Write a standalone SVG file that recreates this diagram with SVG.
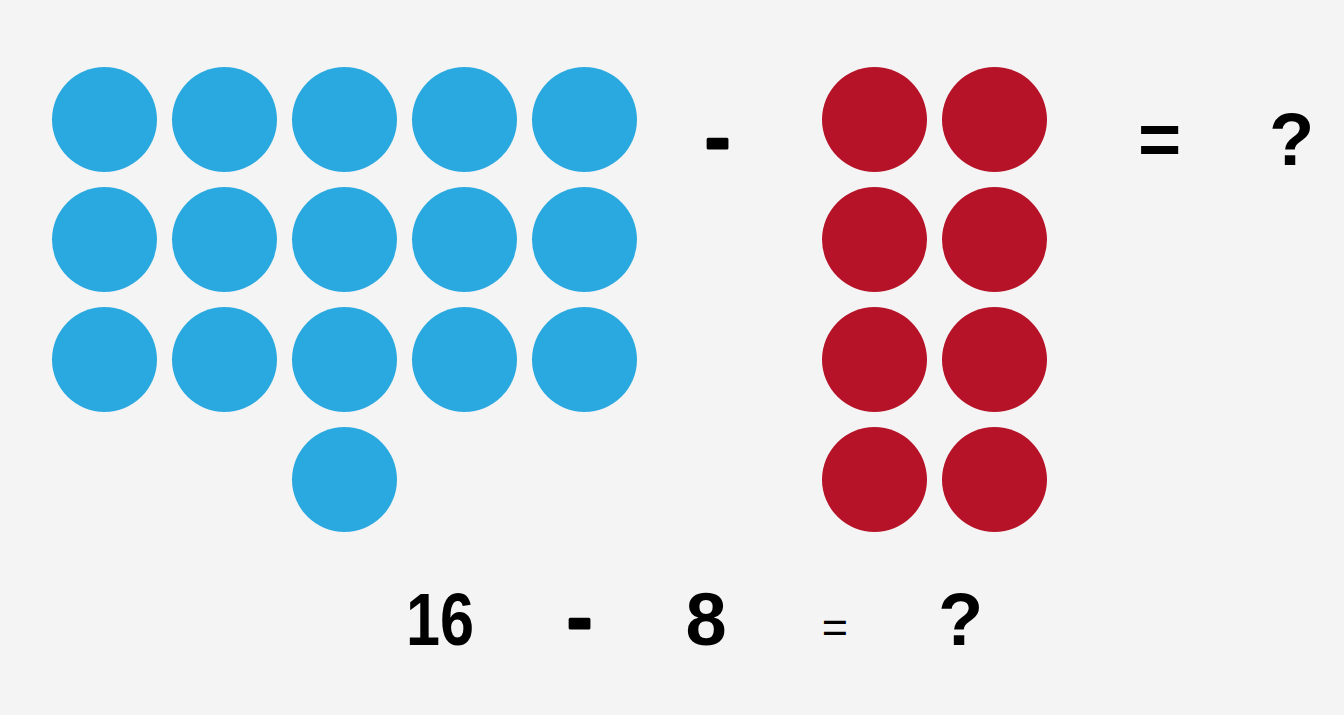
<svg xmlns="http://www.w3.org/2000/svg" width="1344" height="715" viewBox="0 0 1344 715">
<style>
.b{fill:#2aa9e0}
.r{fill:#b61228}
.t{font-family:"Liberation Sans",Arial,sans-serif;font-weight:bold;font-size:74px;fill:#000;text-anchor:middle}
.h{stroke:#000;stroke-width:3;stroke-linejoin:round}
.thin{font-family:"Liberation Sans",Arial,sans-serif;font-weight:normal;font-size:45px;fill:#000;text-anchor:middle}
</style>
<rect width="1344" height="715" fill="#f4f4f4"/>
<g id="blue">
<circle class="b" cx="104.5" cy="119.5" r="52.5"/><circle class="b" cx="224.5" cy="119.5" r="52.5"/><circle class="b" cx="344.5" cy="119.5" r="52.5"/><circle class="b" cx="464.5" cy="119.5" r="52.5"/><circle class="b" cx="584.5" cy="119.5" r="52.5"/>
<circle class="b" cx="104.5" cy="239.5" r="52.5"/><circle class="b" cx="224.5" cy="239.5" r="52.5"/><circle class="b" cx="344.5" cy="239.5" r="52.5"/><circle class="b" cx="464.5" cy="239.5" r="52.5"/><circle class="b" cx="584.5" cy="239.5" r="52.5"/>
<circle class="b" cx="104.5" cy="359.5" r="52.5"/><circle class="b" cx="224.5" cy="359.5" r="52.5"/><circle class="b" cx="344.5" cy="359.5" r="52.5"/><circle class="b" cx="464.5" cy="359.5" r="52.5"/><circle class="b" cx="584.5" cy="359.5" r="52.5"/>
<circle class="b" cx="344.5" cy="479.5" r="52.5"/>
</g>
<g id="red">
<circle class="r" cx="874.5" cy="119.5" r="52.5"/><circle class="r" cx="994.5" cy="119.5" r="52.5"/>
<circle class="r" cx="874.5" cy="239.5" r="52.5"/><circle class="r" cx="994.5" cy="239.5" r="52.5"/>
<circle class="r" cx="874.5" cy="359.5" r="52.5"/><circle class="r" cx="994.5" cy="359.5" r="52.5"/>
<circle class="r" cx="874.5" cy="479.5" r="52.5"/><circle class="r" cx="994.5" cy="479.5" r="52.5"/>
</g>
<g id="top-equation">
<text class="t h" x="717.5" y="163">-</text>
<text class="t" x="1159.5" y="165">=</text>
<text class="t" x="1291.5" y="165">?</text>
</g>
<g id="bottom-equation">
<text class="t" x="440" y="645" textLength="68" lengthAdjust="spacingAndGlyphs">16</text>
<text class="t h" x="579.5" y="643">-</text>
<text class="t" x="706" y="645">8</text>
<text class="thin" x="835" y="642">=</text>
<text class="t" x="960.5" y="645">?</text>
</g>
</svg>
